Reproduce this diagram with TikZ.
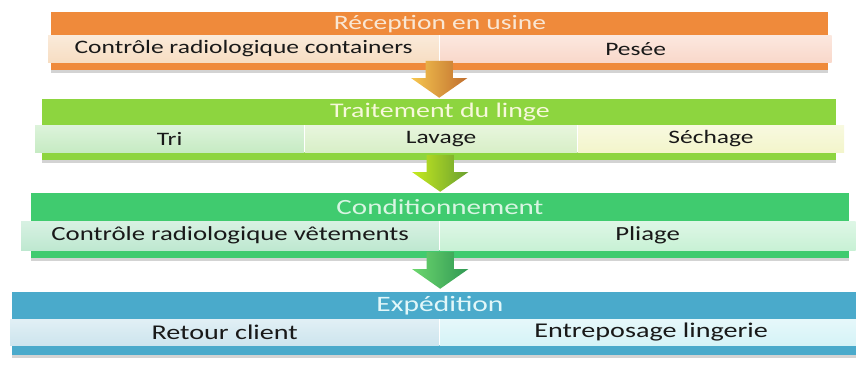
\documentclass[tikz,border=0pt]{standalone}
\usepackage{fontspec}
\setmainfont{Carlito}[FakeStretch=1.34]
\usepackage{tikz}
\usetikzlibrary{positioning,shapes.arrows,shadows,calc}

\definecolor{recvcol}{HTML}{EF8A3B}
\definecolor{recvcellA}{HTML}{F7DDC2}
\definecolor{recvcellB}{HTML}{F9D8CA}
\definecolor{traitcol}{HTML}{8DD53F}
\definecolor{traitcellA}{HTML}{C6EBC3}
\definecolor{traitcellB}{HTML}{D8EFC7}
\definecolor{traitcellC}{HTML}{F3F5CB}
\definecolor{condcol}{HTML}{40CB6F}
\definecolor{condcellA}{HTML}{BEE8D0}
\definecolor{condcellB}{HTML}{C8F1D5}
\definecolor{expcol}{HTML}{4AAACB}
\definecolor{expcellA}{HTML}{CDE5EE}
\definecolor{expcellB}{HTML}{D5F3F7}

\begin{document}
\begin{tikzpicture}[x=1pt, y=-1pt, font=\fontsize{19}{21}\selectfont]
          % styles
          \tikzstyle{slab} = [rectangle, below right, inner sep=0pt, drop shadow={shadow xshift=0pt, shadow yshift=-3pt, opacity=.35}]
          \tikzstyle{slablabel} = [below, inner sep=0pt, text centered]
          \tikzstyle{cell} = [rectangle, below right, inner sep=0pt, text centered, text=black!90]
          \tikzstyle{flow} = [single arrow, shape border rotate=270, draw=none, anchor=tip, inner sep=13.5pt, minimum height=36pt, single arrow head extend=14.5pt, single arrow tip angle=110]
          \tikzstyle{split} = [white, line width=1.2pt]

          \useasboundingbox (0,0) rectangle (856,365);

          % Reception en usine
          \node[slab, fill=recvcol, minimum width=777pt, minimum height=58pt] (recv) at (51,12) {};
          \node[slablabel, minimum height=23pt, text=recvcellA!70!white, font=\fontsize{20.5}{22}\selectfont] at (440,12) {Réception en usine};
          \node[cell, top color=recvcellA!60!white, bottom color=recvcellA, minimum width=391pt, minimum height=27pt] (radc) at (48,35) {Contrôle radiologique containers};
          \node[cell, top color=recvcellB!60!white, bottom color=recvcellB, minimum width=392pt, minimum height=27pt, right=0pt of radc] (pesee) {Pesée};
          \draw[split] (radc.north east) -- (radc.south east);

          % Traitement du linge
          \node[slab, fill=traitcol, minimum width=794pt, minimum height=61pt] (trait) at (42,99) {};
          \node[slablabel, minimum height=26pt, text=traitcellC!70!white, font=\fontsize{20.8}{22}\selectfont] at (440,99) {Traitement du linge};
          \node[cell, top color=traitcellA!60!white, bottom color=traitcellA, minimum width=269pt, minimum height=27pt] (tri) at (35,125) {Tri};
          \node[cell, top color=traitcellB!60!white, bottom color=traitcellB, minimum width=273pt, minimum height=27pt, right=0pt of tri] (lavage) {Lavage};
          \node[cell, top color=traitcellC!60!white, bottom color=traitcellC, minimum width=266pt, minimum height=27pt, right=0pt of lavage] (sechage) {Séchage};
          \draw[split] (tri.north east) -- (tri.south east);
          \draw[split] (lavage.north east) -- (lavage.south east);

          % Conditionnement
          \node[slab, fill=condcol, minimum width=818pt, minimum height=65pt] (cond) at (31,193) {};
          \node[slablabel, minimum height=28pt, text=condcellB!70!white, font=\fontsize{21.7}{23}\selectfont] at (440,193) {Conditionnement};
          \node[cell, top color=condcellA!60!white, bottom color=condcellA, minimum width=418pt, minimum height=29pt, font=\fontsize{20}{22}\selectfont] (radv) at (21,221) {Contrôle radiologique vêtements};
          \node[cell, top color=condcellB!60!white, bottom color=condcellB, minimum width=416pt, minimum height=29pt, font=\fontsize{20}{22}\selectfont, right=0pt of radv] (pliage) {Pliage};
          \draw[split] (radv.north east) -- (radv.south east);

          % Expedition
          \node[slab, fill=expcol, minimum width=850pt, minimum height=63pt] (exped) at (12,292) {};
          \node[slablabel, minimum height=27pt, text=expcellB!70!white, font=\fontsize{22}{24}\selectfont] at (440,292) {Expédition};
          \node[cell, top color=expcellA!60!white, bottom color=expcellA, minimum width=429pt, minimum height=26pt, font=\fontsize{21}{23}\selectfont] (retour) at (10,319) {Retour client};
          \node[cell, top color=expcellB!60!white, bottom color=expcellB, minimum width=423pt, minimum height=26pt, font=\fontsize{21}{23}\selectfont, right=0pt of retour] (entrepos) {Entreposage lingerie};
          \draw[split] (retour.north east) -- (retour.south east);

          % arrows between the stages
          \node[flow, left color=recvcol!60!yellow!80!white, right color=recvcol!80!black] (a1) at ($ (trait.north) + (0,-1) $) {};
          \node[flow, left color=traitcol!50!yellow, right color=traitcol!75!black] (a2) at ($ (cond.north) + (0,-1) $) {};
          \node[flow, left color=condcol!85!yellow!90!white, right color=condcol!75!black] (a3) at ($ (exped.north) + (3,-3) $) {};
\end{tikzpicture}
\end{document}
